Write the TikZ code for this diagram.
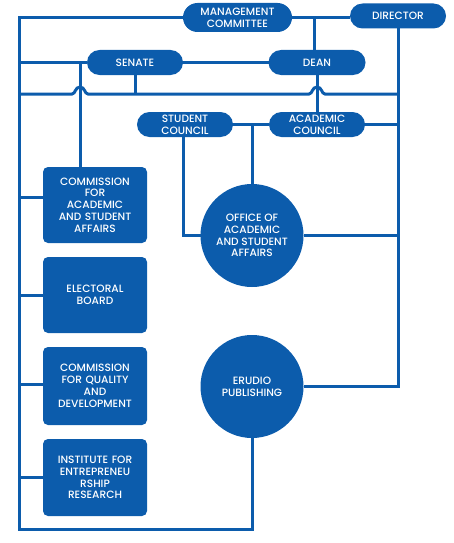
\documentclass[tikz,border=0pt]{standalone}
\usepackage{fontspec}
\setmainfont{Poppins}[UprightFont=* Medium]
\definecolor{ublue}{RGB}{12,92,172}
\begin{document}
\begin{tikzpicture}[x=1pt,y=-1pt,
  every node/.style={inner sep=0pt, outer sep=0pt, text=white, align=center,
    font=\fontsize{10.6}{11.8}\selectfont},
  pill/.style={fill=ublue, rounded corners=12.5pt, minimum width=96pt, minimum height=25pt},
  box/.style={fill=ublue, rounded corners=5pt, minimum width=104pt, minimum height=76pt, text width=100pt},
  disc/.style={fill=ublue, circle, minimum size=103pt},
  conn/.style={draw=ublue, line width=3pt}]
\useasboundingbox (0,0) rectangle (453,543);
% frame coordinate
\coordinate (L) at (19,16.5);
% pills
\node[pill, minimum width=109pt, minimum height=29pt, rounded corners=14.5pt] (mc) at (237.5,17.5) {MANAGEMENT\\COMMITTEE};
\node[pill] (dir) at (398,16) {DIRECTOR};
\node[pill] (senate) at (135,62.5) {SENATE};
\node[pill, minimum width=97pt] (dean) at (317,62.5) {DEAN};
\node[pill] (sc) at (185,124.5) {STUDENT\\COUNCIL};
\node[pill] (ac) at (317,124.5) {ACADEMIC\\COUNCIL};
% circles
\node[disc] (office) at (252,235.5) {OFFICE OF\\ACADEMIC\\AND STUDENT\\AFFAIRS};
\node[disc] (erudio) at (252,386.5) {ERUDIO\\PUBLISHING};
% boxes
\node[box] (b1) at (95,205) {COMMISSION\\FOR\\ACADEMIC\\AND STUDENT\\AFFAIRS};
\node[box] (b2) at (95,295) {ELECTORAL\\BOARD};
\node[box, minimum height=78pt] (b3) at (95,386) {COMMISSION\\FOR QUALITY\\AND\\DEVELOPMENT};
\node[box, minimum height=77pt] (b4) at (95,477.5) {INSTITUTE FOR\\ENTREPRENEU\\RSHIP\\RESEARCH};
% junction coordinates
\coordinate (bot) at (19,529);
\coordinate (jmd) at (314,16.5);
\coordinate (js) at (80,62.5);
\coordinate (jsc) at (252,124.5);
\coordinate (hl) at (19,94);
\coordinate (hr) at (399,94);
% connectors
\draw[conn] (mc.west) -| (bot) -| (erudio.south);
\draw[conn] (mc.east) -- (mc.east -| dir.west);
\draw[conn] (jmd) -- (jmd |- dean.north);
\draw[conn] (dean.south) -- (ac.north);
\draw[conn] (senate.west) -- (senate.west -| L);
\draw[conn] (senate.east) -- (dean.west);
\draw[conn] (js) -- (js |- b1.north);
\draw[conn] (senate.south) -- (senate.south |- hl);
\draw[conn] (hl) -- (72,94) .. controls (75.5,94) and (75,87) .. (80,87)
   .. controls (85,87) and (84.5,94) .. (88,94) -- (309,94)
   .. controls (312.5,94) and (312,87) .. (317,87)
   .. controls (322,87) and (321.5,94) .. (325,94) -- (hr);
\draw[conn] (dir.south) -- (dir.south |- erudio.east) -- (erudio.east);
\draw[conn] (ac.east) -- (ac.east -| dir.south);
\draw[conn] (sc.east) -- (ac.west);
\draw[conn] (jsc) -- (office.north);
\draw[conn] ([xshift=-2pt]sc.south) |- (office.west);
\draw[conn] (office.east) -- (office.east -| dir.south);
\draw[conn] ([yshift=8pt]b1.west) -- ([yshift=8pt]b1.west -| L);
\draw[conn] (b2.west) -- (b2.west -| L);
\draw[conn] ([yshift=2pt]b3.west) -- ([yshift=2pt]b3.west -| L);
\draw[conn] (b4.west) -- (b4.west -| L);
\end{tikzpicture}
\end{document}
